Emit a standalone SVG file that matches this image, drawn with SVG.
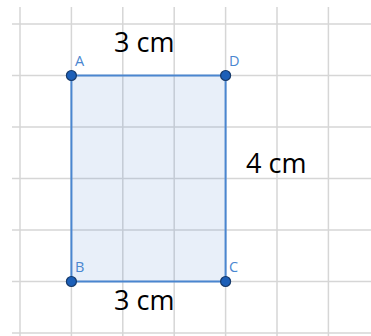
<svg xmlns="http://www.w3.org/2000/svg" width="371" height="336" viewBox="0 0 371 336">
<style>
.grid line{stroke:#d6d6d6;stroke-width:1.5}
.lbl{font-family:"Open Sans","Liberation Sans",sans-serif;font-size:14.5px;fill:#4a86d0}
.dim{font-family:"Open Sans","Liberation Sans",sans-serif;font-size:27px;fill:#000}
.pt{fill:#1c5fb8;stroke:#163a6b;stroke-width:1.2}
</style>
<rect width="371" height="336" fill="#fff"/>
<g class="grid">
<line x1="20" y1="7" x2="20" y2="336"/>
<line x1="71.4" y1="7" x2="71.4" y2="336"/>
<line x1="122.8" y1="7" x2="122.8" y2="336"/>
<line x1="174.2" y1="7" x2="174.2" y2="336"/>
<line x1="225.6" y1="7" x2="225.6" y2="336"/>
<line x1="277" y1="7" x2="277" y2="336"/>
<line x1="328.4" y1="7" x2="328.4" y2="336"/>
<line x1="12" y1="24" x2="371" y2="24"/>
<line x1="12" y1="75.5" x2="371" y2="75.5"/>
<line x1="12" y1="127" x2="371" y2="127"/>
<line x1="12" y1="178.5" x2="371" y2="178.5"/>
<line x1="12" y1="230" x2="371" y2="230"/>
<line x1="12" y1="281.5" x2="371" y2="281.5"/>
<line x1="12" y1="333" x2="371" y2="333"/>
</g>
<g id="rect">
<rect x="71.4" y="75.5" width="154.2" height="206" fill="#4a86d0" fill-opacity="0.13" stroke="#4a86d0" stroke-width="2"/>
</g>
<g id="A"><circle class="pt" cx="71.4" cy="75.5" r="5"/><text class="lbl" x="75" y="65.5">A</text></g>
<g id="D"><circle class="pt" cx="225.6" cy="75.5" r="5"/><text class="lbl" x="229" y="65.5">D</text></g>
<g id="B"><circle class="pt" cx="71.4" cy="281.5" r="5"/><text class="lbl" x="75" y="272">B</text></g>
<g id="C"><circle class="pt" cx="225.6" cy="281.5" r="5"/><text class="lbl" x="229" y="272">C</text></g>
<text class="dim" x="114" y="52">3 cm</text>
<text class="dim" x="114" y="310">3 cm</text>
<text class="dim" x="246" y="173">4 cm</text>
</svg>
